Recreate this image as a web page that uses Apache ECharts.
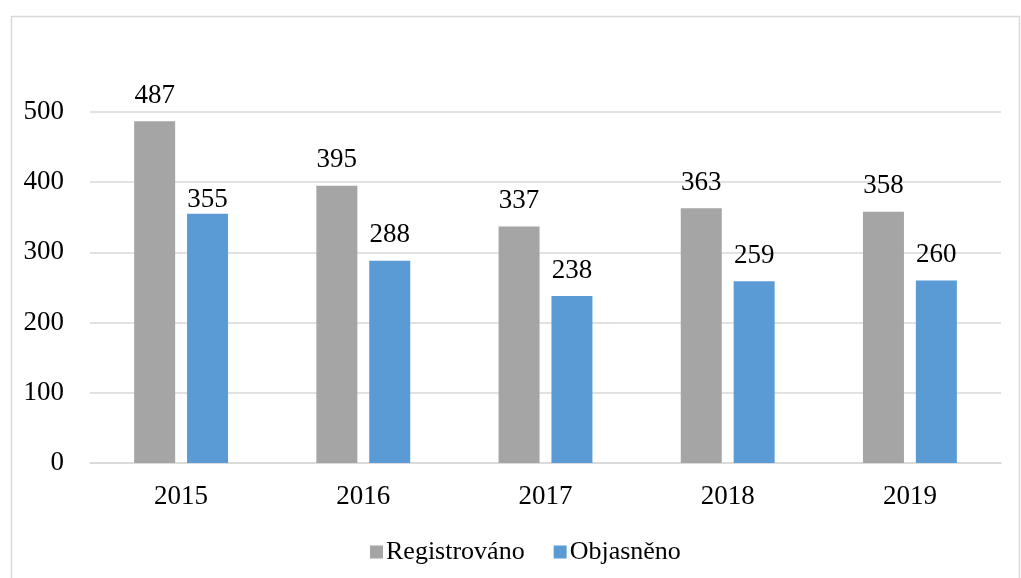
<!DOCTYPE html>
<html><head><meta charset="utf-8">
<script src="https://cdn.jsdelivr.net/npm/echarts@6/dist/echarts.min.js"></script>
<style>html,body{margin:0;padding:0;background:#fff}#c{width:1021px;height:578px}</style>
</head><body><div id="c"></div>
<script>
const categories = ['2015','2016','2017','2018','2019'];
const registrovano = [487, 395, 337, 363, 358];
const objasneno = [355, 288, 238, 259, 260];
const yTicks = {min: 0, max: 500, interval: 100};

const font = '"Liberation Serif", "Times New Roman", serif';
const fs = 27;
const chart = echarts.init(document.getElementById('c'));
chart.setOption({
  animation: false,
  graphic: [{type:'rect', left: 9, top: 14, shape:{width:1008, height:600}, style:{fill:'none', stroke:'#D9D9D9', lineWidth:1.5}, silent:true}],
  grid: {left: 90, right: 20, top: 112, bottom: 115, containLabel: false},
  legend: {
    left: 365, top: 534, itemWidth: 13, itemHeight: 13, itemGap: 29, icon: 'rect',
    textStyle: {fontFamily: font, fontSize: 26, color: '#000', padding: [0,0,0,-2]},
    data: ['Registrováno','Objasněno']
  },
  xAxis: {
    type: 'category', data: categories,
    axisLine: {lineStyle: {color: '#D9D9D9', width: 1.5}},
    axisTick: {show: false},
    axisLabel: {fontFamily: font, fontSize: fs, color: '#000', margin: 20}
  },
  yAxis: {
    type: 'value', min: yTicks.min, max: yTicks.max, interval: yTicks.interval,
    axisLine: {show: false}, axisTick: {show: false},
    splitLine: {lineStyle: {color: '#D9D9D9', width: 1.5}},
    axisLabel: {fontFamily: font, fontSize: fs, color: '#000', margin: 26}
  },
  series: [
    {name: 'Registrováno', type: 'bar', data: registrovano, barWidth: 41, barGap: '29%',
     itemStyle: {color: '#A5A5A5'},
     label: {show: true, position: 'top', distance: 12, fontFamily: font, fontSize: fs, color: '#000'}},
    {name: 'Objasněno', type: 'bar',
     data: objasneno.map((v, i) => i === 0 ? {value: v, label: {distance: 0}} : v),
     barWidth: 41,
     itemStyle: {color: '#5B9BD5'},
     label: {show: true, position: 'top', distance: 12, fontFamily: font, fontSize: fs, color: '#000'}}
  ]
});
</script></body></html>
